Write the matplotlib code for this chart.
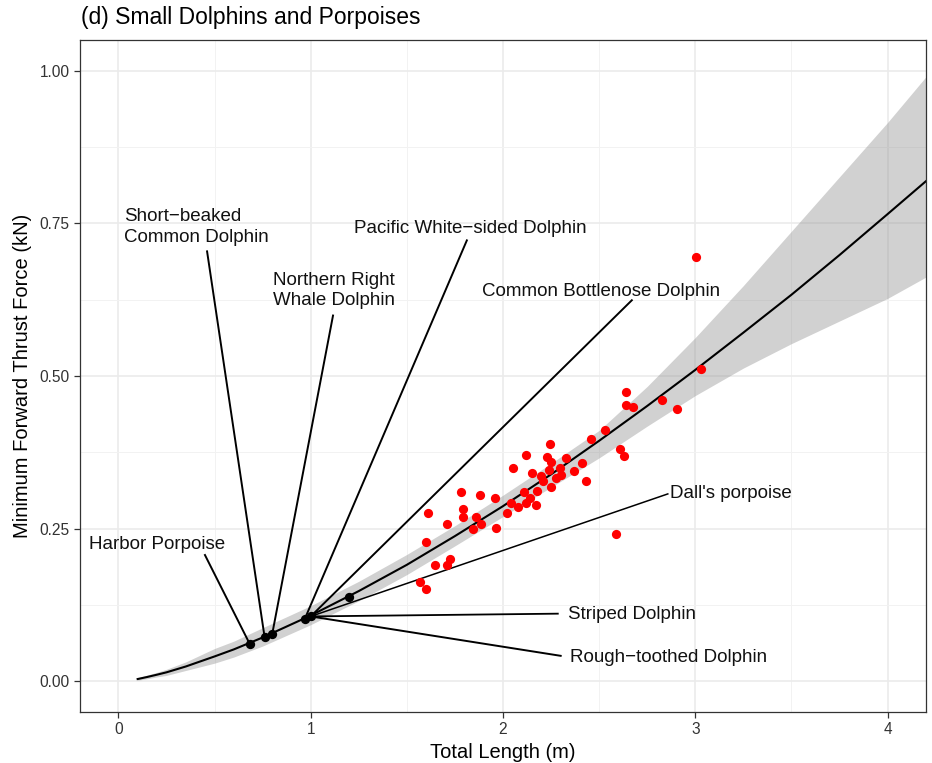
import numpy as np
import matplotlib
matplotlib.use("Agg")
import matplotlib.pyplot as plt

plt.rcParams["font.family"] = ["Liberation Sans", "DejaVu Sans"]

# fitted curve and confidence band
fit_x = [0.1, 0.15, 0.2, 0.25, 0.35, 0.5, 0.6, 0.75, 1.0, 1.25, 1.5, 1.75, 2.0, 2.25, 2.5, 2.75, 3.0, 3.25, 3.5, 3.75, 4.0, 4.2]
fit_y = [0.004, 0.0074, 0.0111, 0.015, 0.0245, 0.041, 0.0525, 0.072, 0.108, 0.148, 0.191, 0.238, 0.287, 0.339, 0.394, 0.451, 0.510, 0.571, 0.633, 0.698, 0.765, 0.819]
band_lo = [0.002, 0.0045, 0.0075, 0.010, 0.018, 0.030, 0.040, 0.058, 0.093, 0.132, 0.175, 0.222, 0.270, 0.318, 0.366, 0.418, 0.468, 0.513, 0.553, 0.590, 0.627, 0.662]
band_hi = [0.006, 0.0105, 0.015, 0.020, 0.032, 0.054, 0.066, 0.088, 0.124, 0.164, 0.208, 0.255, 0.305, 0.357, 0.411, 0.483, 0.563, 0.648, 0.737, 0.826, 0.915, 0.990]

# red points (measured animals)
obs_x = [2.638, 2.638, 2.677, 2.829, 2.906, 2.528, 2.459, 2.606, 2.628, 2.590,
         2.247, 2.119, 2.228, 2.249, 2.329, 2.412, 2.050, 2.149, 2.237, 2.297,
         2.303, 2.369, 2.197, 2.209, 2.275, 2.430, 2.249, 2.178, 2.109, 2.138,
         2.119, 2.173, 2.040, 2.079, 2.019, 1.960, 1.878, 1.780, 1.790, 1.790,
         1.859, 1.884, 1.844, 1.963, 1.711, 1.610, 1.599, 1.724, 1.708, 1.648,
         1.567, 1.600, 3.006, 3.029]
obs_y = [0.474, 0.453, 0.450, 0.460, 0.446, 0.411, 0.397, 0.380, 0.369, 0.241,
         0.388, 0.371, 0.368, 0.359, 0.366, 0.357, 0.349, 0.342, 0.346, 0.349,
         0.338, 0.344, 0.336, 0.328, 0.333, 0.328, 0.319, 0.312, 0.310, 0.300,
         0.292, 0.289, 0.292, 0.286, 0.275, 0.300, 0.306, 0.310, 0.282, 0.270,
         0.270, 0.257, 0.249, 0.252, 0.257, 0.275, 0.228, 0.200, 0.191, 0.191,
         0.163, 0.151, 0.695, 0.512]

# species (black points)
sp_x = [0.682, 0.760, 0.800, 0.970, 1.000, 1.199]
sp_y = [0.062, 0.073, 0.078, 0.103, 0.1065, 0.139]

labels = ["Harbor Porpoise", "Short\u2212beaked\nCommon Dolphin", "Northern Right\nWhale Dolphin",
          "Pacific White\u2212sided Dolphin", "Common Bottlenose Dolphin", "Dall's porpoise",
          "Striped Dolphin", "Rough\u2212toothed Dolphin"]
label_pt = [0, 1, 2, 3, 4, 4, 4, 4]

# label layout: (segment end x, y, text x, text y)
label_pos = [(0.45, 0.207, -0.155, 0.225), (0.461, 0.704, 0.03, 0.744),
             (1.116, 0.599, 0.805, 0.640), (1.812, 0.722, 1.225, 0.741),
             (2.67, 0.624, 1.89, 0.638), (2.857, 0.307, 2.87, 0.307),
             (2.285, 0.111, 2.34, 0.110), (2.30, 0.042, 2.35, 0.040)]
seg_lw = [1.4, 1.4, 1.4, 1.4, 1.4, 1.1, 1.3, 1.4]

fig = plt.figure(figsize=(9.32, 7.63), dpi=100)
ax = fig.add_axes([0.0858, 0.0668, 0.9078, 0.8808])

ax.set_xlim(-0.2, 4.2)
ax.set_ylim(-0.05, 1.05)
ax.set_xticks([0, 1, 2, 3, 4])
ax.set_xticks([0.5, 1.5, 2.5, 3.5], minor=True)
ax.set_yticks([0, 0.25, 0.5, 0.75, 1.0])
ax.set_yticklabels(["0.00", "0.25", "0.50", "0.75", "1.00"])
ax.set_yticks([0.125, 0.375, 0.625, 0.875], minor=True)
ax.grid(which="major", color="#EBEBEB", lw=1.2, zorder=0)
ax.grid(which="minor", color="#F2F2F2", lw=0.7, zorder=0)
ax.set_axisbelow(True)
ax.tick_params(which="major", length=4, width=0.9, color="#333333", labelsize=11.2, labelcolor="#333333")
ax.tick_params(which="minor", length=0)
for s in ax.spines.values():
    s.set_color("#333333")
    s.set_linewidth(0.9)

ax.fill_between(fit_x, band_lo, band_hi, color="#999999", alpha=0.45, lw=0, zorder=1)
ax.plot(fit_x, fit_y, color="black", lw=1.5, zorder=2)

for i, lab in enumerate(labels):
    p = label_pt[i]
    ex, ey, tx, ty = label_pos[i]
    ax.plot([sp_x[p], ex], [sp_y[p], ey], color="black", lw=seg_lw[i], zorder=3)
    ax.text(tx, ty, lab, fontsize=13.5, ha="left", va="center", color="#111111",
            linespacing=1.3, zorder=5)

ax.scatter(sp_x, sp_y, s=45, color="black", zorder=4, lw=0)
ax.scatter(obs_x, obs_y, s=44, color="#FF0000", zorder=4, lw=0)

ax.set_xlabel("Total Length (m)", fontsize=14.5, labelpad=4)
ax.set_ylabel("Minimum Forward Thrust Force (kN)", fontsize=14.5, labelpad=5)
fig.text(0.087, 0.977, "(d) Small Dolphins and Porpoises", fontsize=16.5, ha="left", va="center")

fig.savefig("out.png", dpi=100)
